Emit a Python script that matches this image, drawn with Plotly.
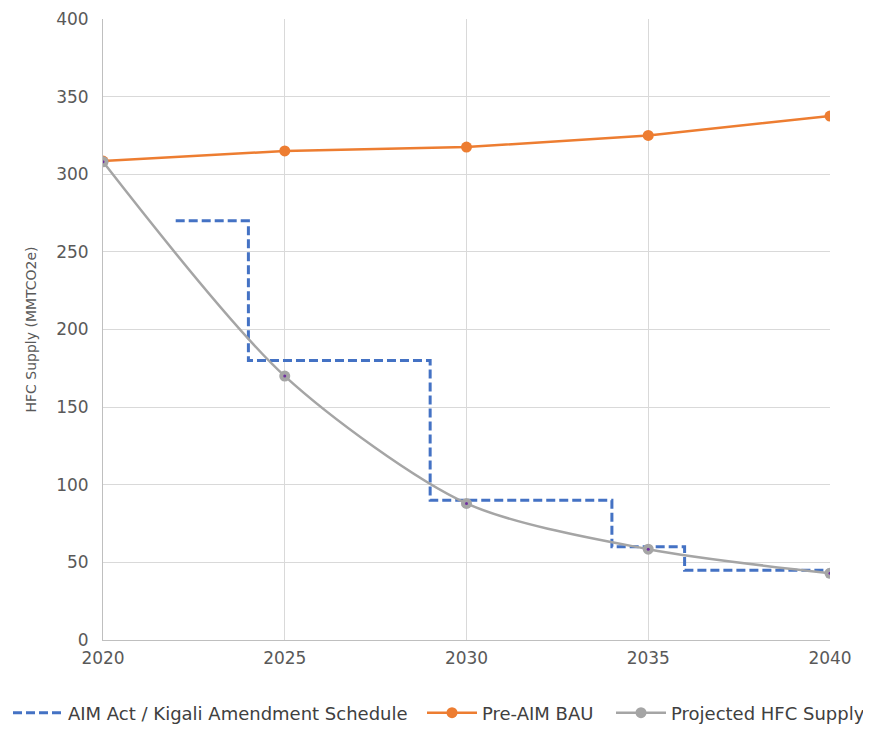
import plotly.graph_objects as go

years = [2020, 2025, 2030, 2035, 2040]
bau = [308.5, 315, 317.5, 325, 337.5]
projected = [308, 170, 88, 58.5, 43]
sched_years = [2022, 2024, 2029, 2034, 2036, 2040]
sched_vals = [270, 180, 90, 60, 45, 45]

FONT = "DejaVu Sans, Verdana, sans-serif"

fig = go.Figure()
fig.add_trace(go.Scatter(
    x=sched_years, y=sched_vals, mode="lines", line_shape="hv",
    name="AIM Act / Kigali Amendment Schedule", legend="legend",
    line=dict(color="#4472C4", width=3, dash="9px,4px")))
fig.add_trace(go.Scatter(
    x=years, y=bau, mode="lines+markers", name="Pre-AIM BAU", legend="legend2",
    line=dict(color="#ED7D31", width=2.5),
    marker=dict(color="#ED7D31", size=11)))
fig.add_trace(go.Scatter(
    x=years, y=projected, mode="lines+markers", name="Projected HFC Supply",
    legend="legend3",
    line=dict(color="#A5A5A5", width=2.5, shape="spline", smoothing=0.8),
    marker=dict(color="#A5A5A5", size=11)))
fig.add_trace(go.Scatter(
    x=years, y=projected, mode="markers", showlegend=False, hoverinfo="skip",
    marker=dict(color="#7030A0", size=3)))

axis_font = dict(family=FONT, size=17, color="#595959")
leg_common = dict(orientation="h", xref="container", xanchor="left",
                  yref="container", y=17 / 722, yanchor="middle",
                  font=dict(family=FONT, size=18, color="#404040"),
                  itemwidth=50, bgcolor="rgba(0,0,0,0)")
fig.update_layout(
    width=863, height=722,
    margin=dict(l=95, r=41, t=11, b=90, autoexpand=False),
    plot_bgcolor="white", paper_bgcolor="white",
    font=dict(family=FONT, color="#595959"),
    xaxis=dict(range=[2020, 2040], tickvals=years, showgrid=True,
               gridcolor="#D9D9D9", gridwidth=1, showline=True,
               linecolor="#BFBFBF", linewidth=1, mirror=False,
               zeroline=False, tickfont=axis_font, ticks="",
               ticklabelstandoff=3, automargin=False),
    yaxis=dict(range=[0, 400], dtick=50, showgrid=True,
               gridcolor="#D9D9D9", gridwidth=1, showline=True,
               linecolor="#BFBFBF", linewidth=1, zeroline=False,
               tickfont=axis_font, ticks="", ticklen=0,
               ticklabelstandoff=10, automargin=False,
               title=dict(text="HFC Supply (MMTCO2e)",
                          font=dict(family=FONT, size=14, color="#595959"),
                          standoff=16)),
    legend=dict(x=0.0, **leg_common),
    legend2=dict(x=414 / 863, **leg_common),
    legend3=dict(x=603 / 863, **leg_common),
    showlegend=True,
)
fig.write_html("out.html")
